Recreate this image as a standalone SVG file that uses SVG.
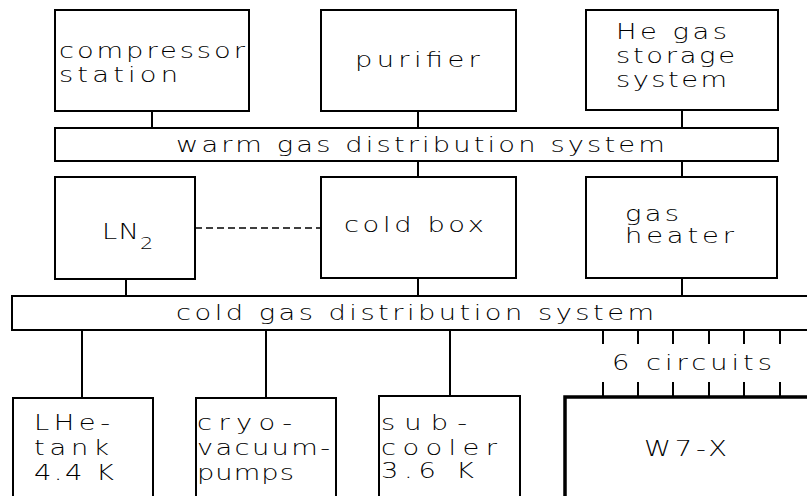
<svg xmlns="http://www.w3.org/2000/svg" width="807" height="496" viewBox="0 0 807 496">
<style>
  .box { fill: #fff; stroke: #000; stroke-width: 2; }
  .thick { fill: #fff; stroke: #000; stroke-width: 3.5; }
  .ln { stroke: #000; stroke-width: 2; fill: none; }
  .dash { stroke: #000; stroke-width: 1.6; fill: none; stroke-dasharray: 7 4; }
  text { font-family: "DejaVu Sans", "Liberation Sans", sans-serif; font-size: 21px; font-weight: 200; fill: #000; }
  .sub { font-size: 16px; }
</style>
<rect x="0" y="0" width="807" height="496" fill="#fff"/>
<g id="connectors">
  <line class="ln" x1="152" y1="111" x2="152" y2="128"/>
  <line class="ln" x1="418" y1="111" x2="418" y2="128"/>
  <line class="ln" x1="682" y1="110" x2="682" y2="128"/>
  <line class="ln" x1="418" y1="161" x2="418" y2="177"/>
  <line class="ln" x1="682" y1="161" x2="682" y2="177"/>
  <line class="ln" x1="126" y1="279" x2="126" y2="296"/>
  <line class="ln" x1="418" y1="278" x2="418" y2="296"/>
  <line class="ln" x1="682" y1="278" x2="682" y2="296"/>
  <line class="dash" x1="195" y1="228" x2="321" y2="228"/>
  <line class="ln" x1="82" y1="330" x2="82" y2="398"/>
  <line class="ln" x1="266" y1="330" x2="266" y2="398"/>
  <line class="ln" x1="450" y1="330" x2="450" y2="396"/>
  <g id="circuits-top">
    <line class="ln" x1="603" y1="330" x2="603" y2="344"/>
    <line class="ln" x1="638" y1="330" x2="638" y2="344"/>
    <line class="ln" x1="673" y1="330" x2="673" y2="344"/>
    <line class="ln" x1="709" y1="330" x2="709" y2="344"/>
    <line class="ln" x1="744" y1="330" x2="744" y2="344"/>
    <line class="ln" x1="780" y1="330" x2="780" y2="344"/>
  </g>
  <g id="circuits-bottom">
    <line class="ln" x1="603" y1="382" x2="603" y2="397"/>
    <line class="ln" x1="638" y1="382" x2="638" y2="397"/>
    <line class="ln" x1="673" y1="382" x2="673" y2="397"/>
    <line class="ln" x1="709" y1="382" x2="709" y2="397"/>
    <line class="ln" x1="744" y1="382" x2="744" y2="397"/>
    <line class="ln" x1="780" y1="382" x2="780" y2="397"/>
  </g>
  <text transform="matrix(1.3 0 0 1 612 370)" textLength="123" lengthAdjust="spacing">6 circuits</text>
</g>
<g id="compressor">
  <rect class="box" x="55" y="10" width="194" height="101"/>
  <text transform="matrix(1.3 0 0 1 59 58)" textLength="143" lengthAdjust="spacing">compressor</text>
  <text transform="matrix(1.3 0 0 1 59 82)" textLength="91.5" lengthAdjust="spacing">station</text>
</g>
<g id="purifier">
  <rect class="box" x="321" y="10" width="195" height="101"/>
  <text transform="matrix(1.3 0 0 1 355 67)" textLength="96" lengthAdjust="spacing">purifier</text>
</g>
<g id="storage">
  <rect class="box" x="586" y="10" width="192" height="100"/>
  <text transform="matrix(1.3 0 0 1 616 39)" textLength="85.4" lengthAdjust="spacing">He gas</text>
  <text transform="matrix(1.3 0 0 1 616 63)" textLength="91.5" lengthAdjust="spacing">storage</text>
  <text transform="matrix(1.3 0 0 1 616 87)" textLength="85.4" lengthAdjust="spacing">system</text>
</g>
<g id="warm-bar">
  <rect class="box" x="55" y="128" width="723" height="33"/>
  <text transform="matrix(1.3 0 0 1 176 152)" textLength="376" lengthAdjust="spacing">warm gas distribution system</text>
</g>
<g id="ln2">
  <rect class="box" x="55" y="177" width="140" height="102"/>
  <text transform="matrix(1.3 0 0 1 102 239)" textLength="28.5" lengthAdjust="spacing">LN</text>
  <text class="sub" transform="matrix(1.3 0 0 1 140 249)">2</text>
</g>
<g id="coldbox">
  <rect class="box" x="321" y="177" width="195" height="101"/>
  <text transform="matrix(1.3 0 0 1 344 232)" textLength="107.7" lengthAdjust="spacing">cold box</text>
</g>
<g id="heater">
  <rect class="box" x="586" y="177" width="191" height="101"/>
  <text transform="matrix(1.3 0 0 1 625 221)" textLength="41.5" lengthAdjust="spacing">gas</text>
  <text transform="matrix(1.3 0 0 1 625 243)" textLength="83.8" lengthAdjust="spacing">heater</text>
</g>
<g id="cold-bar">
  <rect class="box" x="12" y="296" width="810" height="34"/>
  <text transform="matrix(1.3 0 0 1 176 320)" textLength="367.7" lengthAdjust="spacing">cold gas distribution system</text>
</g>
<g id="lhe">
  <rect class="box" x="13" y="398" width="140" height="110"/>
  <text transform="matrix(1.3 0 0 1 34 430)" textLength="58.5" lengthAdjust="spacing">LHe-</text>
  <text transform="matrix(1.3 0 0 1 34 455)" textLength="57.7" lengthAdjust="spacing">tank</text>
  <text transform="matrix(1.3 0 0 1 34 480)" textLength="61.5" lengthAdjust="spacing">4.4  K</text>
</g>
<g id="cryo">
  <rect class="box" x="196" y="398" width="140" height="110"/>
  <text transform="matrix(1.3 0 0 1 197 430)" textLength="73.1" lengthAdjust="spacing">cryo-</text>
  <text transform="matrix(1.3 0 0 1 197 455)" textLength="102.3" lengthAdjust="spacing">vacuum-</text>
  <text transform="matrix(1.3 0 0 1 197 480)" textLength="74.6" lengthAdjust="spacing">pumps</text>
</g>
<g id="subcooler">
  <rect class="box" x="379" y="396" width="141" height="112"/>
  <text transform="matrix(1.3 0 0 1 381 430)" textLength="66.2" lengthAdjust="spacing">sub-</text>
  <text transform="matrix(1.3 0 0 1 381 455)" textLength="89.2" lengthAdjust="spacing">cooler</text>
  <text transform="matrix(1.3 0 0 1 381 478)" textLength="71.5" lengthAdjust="spacing">3.6  K</text>
</g>
<g id="w7x">
  <rect class="thick" x="565" y="397" width="260" height="120"/>
  <text transform="matrix(1.3 0 0 1 644 456)" textLength="63.8" lengthAdjust="spacing">W7-X</text>
</g>
</svg>
